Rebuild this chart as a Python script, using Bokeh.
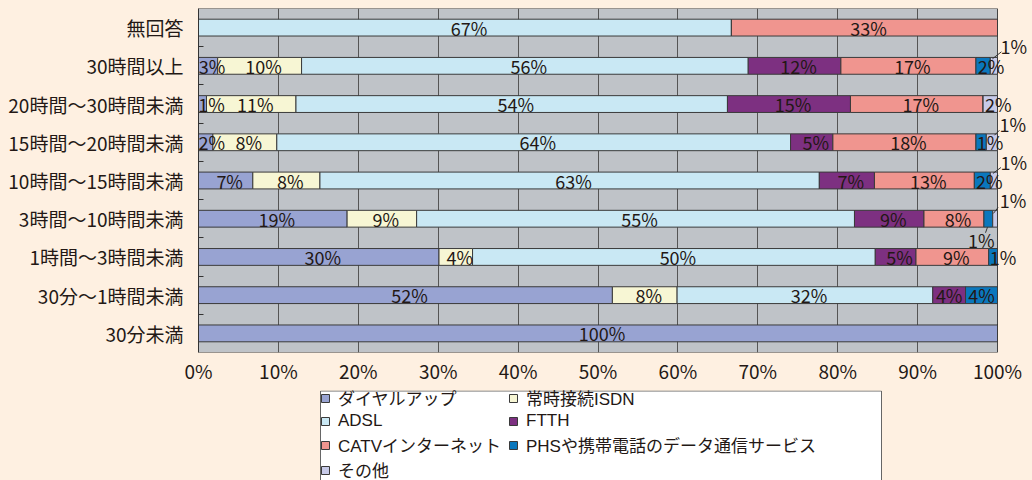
from bokeh.plotting import figure
from bokeh.layouts import column
from bokeh.models import (ColumnDataSource, Range1d, FixedTicker, PrintfTickFormatter,
                          Legend, LegendItem)
from bokeh.core.properties import value
from bokeh.embed import file_html
from bokeh.resources import INLINE

# ---------------- data (rows listed top to bottom) ----------------
categories = ["無回答", "30時間以上", "20時間〜30時間未満", "15時間〜20時間未満",
              "10時間〜15時間未満", "3時間〜10時間未満", "1時間〜3時間未満",
              "30分〜1時間未満", "30分未満"]

dialup = [0, 2.4, 1.0, 1.8, 6.8, 18.6, 30.1, 51.8, 100]
isdn = [0, 10.5, 11.2, 8.0, 8.4, 8.7, 4.2, 8.1, 0]
adsl = [66.7, 55.9, 54.0, 64.3, 62.5, 54.8, 50.4, 32.0, 0]
ftth = [0, 11.6, 15.4, 5.3, 6.9, 8.7, 5.1, 4.1, 0]
catv = [33.3, 16.9, 16.6, 17.9, 12.5, 7.5, 9.1, 0, 0]
phs = [0, 1.8, 0, 1.3, 2.0, 1.1, 1.1, 4.0, 0]
other = [0, 0.9, 1.8, 1.4, 0.9, 0.6, 0, 0, 0]

# percentages printed on the bars
dialup_lbl = [None, 3, 1, 2, 7, 19, 30, 52, 100]
isdn_lbl = [None, 10, 11, 8, 8, 9, 4, 8, None]
adsl_lbl = [67, 56, 54, 64, 63, 55, 50, 32, None]
ftth_lbl = [None, 12, 15, 5, 7, 9, 5, 4, None]
catv_lbl = [33, 17, 17, 18, 13, 8, 9, None, None]
phs_lbl = [None, 2, None, 1, 2, 1, 1, 4, None]
other_lbl = [None, 1, 2, 1, 1, 1, None, None, None]

series_keys = ["dialup", "isdn", "adsl", "ftth", "catv", "phs", "other"]
series_names = ["ダイヤルアップ", "常時接続ISDN", "ADSL", "FTTH", "CATVインターネット",
                "PHSや携帯電話のデータ通信サービス", "その他"]
x_ticks = [0, 10, 20, 30, 40, 50, 60, 70, 80, 90, 100]

# ---------------- style ----------------
colors = ["#98A3D2", "#F7F6D4", "#C9E8F4", "#7D3081", "#F0958F", "#0A77BD", "#C7CAE8"]
CREAM = "#FEF0E1"
PLOT_BG = "#BFC3C8"
FONT = "Noto Sans CJK JP"
LEG_FONT = "Liberation Sans, Noto Sans CJK JP"
TXT = "#231815"

W, H = 1032, 390
LEFT, TOP = 198, 8
PLOT_W, PLOT_H = 799, 344        # the grey plotting area
BOTTOM = H - TOP - PLOT_H
n = len(categories)
BAR_H = 0.44

x_max = x_ticks[-1]
x_end = x_max * (W - LEFT) / PLOT_W   # frame runs to the right edge so outside labels show

series_vals = dict(zip(series_keys, [dialup, isdn, adsl, ftth, catv, phs, other]))
series_lbls = dict(zip(series_keys, [dialup_lbl, isdn_lbl, adsl_lbl, ftth_lbl, catv_lbl, phs_lbl, other_lbl]))

y_pos = [n - i - 0.5 for i in range(n)]  # top row highest

src = ColumnDataSource(dict(y=y_pos, **series_vals))

p = figure(width=W, height=H, output_backend="svg", toolbar_location=None,
           x_range=Range1d(0, x_end), y_range=Range1d(0, n),
           min_border_left=LEFT, min_border_right=0,
           min_border_top=TOP, min_border_bottom=BOTTOM)
p.title.visible = False
p.background_fill_color = CREAM
p.border_fill_color = CREAM
p.outline_line_color = None

# grey plotting area
bg = p.quad(left=[x_ticks[0]], right=[x_max], bottom=[0], top=[n],
            fill_color=PLOT_BG, line_color="#444444", line_width=1)
bg.level = "image"

renderers = p.hbar_stack(series_keys, y="y", height=BAR_H, color=colors,
                         line_color="#3A3A3A", line_width=1, source=src)

# ---------------- axes & grid ----------------
p.ygrid.grid_line_color = None
p.xgrid.grid_line_color = "#555555"
p.xgrid.ticker = FixedTicker(ticks=x_ticks[1:-1])

xa = p.xaxis[0]
xa.ticker = FixedTicker(ticks=x_ticks)
xa.formatter = PrintfTickFormatter(format="%d%%")
xa.major_tick_in = 0
xa.major_tick_out = 0
xa.minor_tick_in = 0
xa.minor_tick_out = 0
xa.axis_line_color = None
xa.major_label_standoff = 4
xa.major_label_text_font = FONT
xa.major_label_text_font_size = "19px"
xa.major_label_text_color = TXT

ya = p.yaxis[0]
ya.ticker = FixedTicker(ticks=y_pos, minor_ticks=list(range(1, n)))
ya.major_label_overrides = {y: c for y, c in zip(y_pos, categories)}
ya.major_tick_in = 0
ya.major_tick_out = 0
ya.minor_tick_in = 5
ya.minor_tick_out = 0
ya.minor_tick_line_color = "#333333"
ya.axis_line_color = "#333333"
ya.major_label_standoff = 15
ya.major_label_text_font = FONT
ya.major_label_text_font_size = "19px"
ya.major_label_text_color = TXT

# ---------------- value labels ----------------
label_shift = {
    (1, "phs"): (8, 0), (1, "other"): (20, -20),
    (2, "dialup"): (9, 0), (2, "other"): (8, 0),
    (3, "dialup"): (6, 0), (3, "phs"): (9, 0), (3, "other"): (21, -18),
    (4, "phs"): (7, 0), (4, "other"): (20, -19),
    (5, "phs"): (-7, 21), (5, "other"): (18, -19),
    (6, "phs"): (10, 0),
    (7, "ftth"): (0, 0), (7, "phs"): (0, 0),
}
# leader lines: (row, series, start px, end px) relative to segment centre
leaders = [
    (1, "other", (-1.5, -7), (7.5, -14)),
    (3, "other", (2.5, -7), (7.5, -12)),
    (4, "other", (-1, -7), (7, -13)),
    (5, "other", (-1.7, -5.3), (3, -11.3)),
    (5, "phs", (-0.8, 8.5), (-2.8, 14)),
]
px_x = x_max / PLOT_W
px_y = n / PLOT_H

lx, ly, lt, ldx, ldy = [], [], [], [], []
centres = {}
for i in range(n):
    left = 0.0
    for k in series_keys:
        v = series_vals[k][i]
        cx = left + v / 2.0
        centres[(i, k)] = cx
        lab = series_lbls[k][i]
        if lab is not None:
            dx, dy = label_shift.get((i, k), (4, 0))
            lx.append(cx)
            ly.append(y_pos[i])
            lt.append(f"{lab}%")
            ldx.append(dx)
            ldy.append(dy)
        left += v

p.text(x="x", y="y", text="t", x_offset="dx", y_offset="dy",
       source=ColumnDataSource(dict(x=lx, y=ly, t=lt, dx=ldx, dy=ldy)),
       text_font=value(FONT), text_font_size="18px", text_color=TXT,
       text_align="center", text_baseline="middle")

sx0, sy0, sx1, sy1 = [], [], [], []
for (i, k, a, b) in leaders:
    cx = centres[(i, k)]
    sx0.append(cx + a[0] * px_x)
    sy0.append(y_pos[i] - a[1] * px_y)
    sx1.append(cx + b[0] * px_x)
    sy1.append(y_pos[i] - b[1] * px_y)
p.segment(x0="x0", y0="y0", x1="x1", y1="y1",
          source=ColumnDataSource(dict(x0=sx0, y0=sy0, x1=sx1, y1=sy1)),
          line_color="#333333", line_width=1)

# ---------------- legend (own strip below the chart, pixel-scaled ranges) ----------------
LH = 110
q = figure(width=W, height=LH, output_backend="svg", toolbar_location=None,
           x_range=Range1d(0, W - LEFT), y_range=Range1d(0, LH),
           min_border_left=0, min_border_right=0, min_border_top=0, min_border_bottom=0)
q.title.visible = False
q.axis.visible = False
q.grid.grid_line_color = None
q.outline_line_color = None
q.background_fill_color = CREAM
q.border_fill_color = CREAM
q.extra_y_ranges = {"off": Range1d(100, 101)}

# legend frame box (x from 320 to 881 on the page)
box = q.quad(left=[320 - LEFT], right=[881 - LEFT], bottom=[-20], top=[LH - 0.5],
             fill_color="white", line_color="#666666", line_width=1)
box.level = "image"

# stacked bars drawn off-range (below the window): they only give the legend its swatches
proxies = q.hbar_stack(series_keys, y="y", height=BAR_H, color=colors,
                       line_color="#3A3A3A", line_width=1, source=src, y_range_name="off")
items = [LegendItem(label=nm, renderers=[r]) for nm, r in zip(series_names, proxies)]
legend = Legend(items=items, location=(122, 18), orientation="horizontal", ncols=2,
                border_line_color=None, background_fill_alpha=0.0,
                padding=6, spacing=0, margin=0, label_width=170,
                label_height=22, glyph_height=10, glyph_width=10, label_standoff=8,
                label_text_font=LEG_FONT, label_text_font_size="17px", label_text_color=TXT)
q.add_layout(legend)

layout = column(p, q, spacing=0)
html = file_html(layout, INLINE)
html = html.replace("<head>", "<head><style>html,body{background:%s;overflow:hidden;}</style>" % CREAM, 1)
open("out.html", "w").write(html)
